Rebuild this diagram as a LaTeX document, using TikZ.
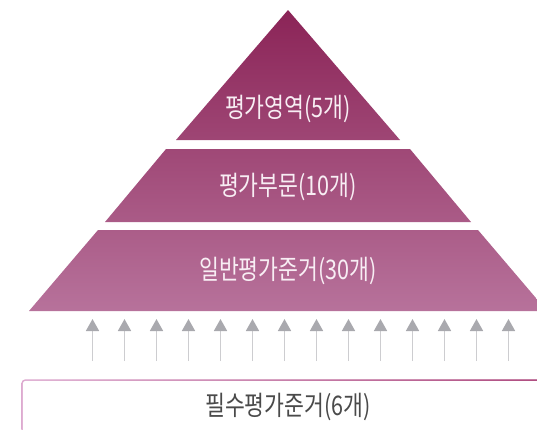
\documentclass[tikz,border=0pt]{standalone}
\usepackage{fontspec}
\setmainfont{Noto Sans CJK KR}[FakeStretch=0.8]
\usetikzlibrary{arrows.meta}
\definecolor{pyrtop}{HTML}{8B2457}
\definecolor{pyrbot}{HTML}{B7729B}
\definecolor{lvltext}{HTML}{F8EEF4}
\definecolor{basetext}{HTML}{4A4A4A}
\definecolor{boxleft}{HTML}{DDAAD0}
\definecolor{boxright}{HTML}{A22F6B}
\definecolor{headgray}{HTML}{A9A9AE}
\definecolor{shaftgray}{HTML}{CDCDD0}
\tikzset{
  lvl/.style={text=lvltext, font=\fontsize{27}{27}\selectfont, inner sep=0pt},
  basetxt/.style={text=basetext, font=\fontsize{27}{27}\selectfont, inner sep=0pt},
  uparrow/.style={draw=shaftgray, line width=1.6pt,
    -{Triangle[width=13pt,length=12pt,color=headgray]}}
}
\begin{document}
\begin{tikzpicture}[x=1pt,y=-1pt]
\useasboundingbox (0,0) rectangle (537,429);
\clip (0,0) rectangle (537,429);
% pyramid with one continuous vertical gradient
\begin{scope}
\clip (288,10) -- (400,140) -- (176,140) -- cycle
      (166,149) -- (410,149) -- (471,222) -- (105,222) -- cycle
      (98,230) -- (478,230) -- (547,311) -- (29,311) -- cycle;
\shade[top color=pyrtop, bottom color=pyrbot] (0,10) rectangle (560,311);
\end{scope}
\node[lvl] (l1) at (288,109) {평가영역(5개)};
\node[lvl] (l2) at (288,187) {평가부문(10개)};
\node[lvl] (l3) at (288,271) {일반평가준거(30개)};
% base box
\shade[left color=boxleft, right color=boxright, rounded corners=4pt]
  (21.3,379.3) rectangle (560,460);
\fill[white, rounded corners=3pt] (22.8,380.8) rectangle (558,458);
\node[basetxt] (base) at (288,407) {필수평가준거(6개)};
% arrows
\foreach \i in {0,...,13}{
  \coordinate (s\i) at ({92.5+32*\i},361);
  \coordinate (t\i) at ({92.5+32*\i},319);
  \draw[uparrow] (s\i) -- (t\i);
}
\end{tikzpicture}
\end{document}
